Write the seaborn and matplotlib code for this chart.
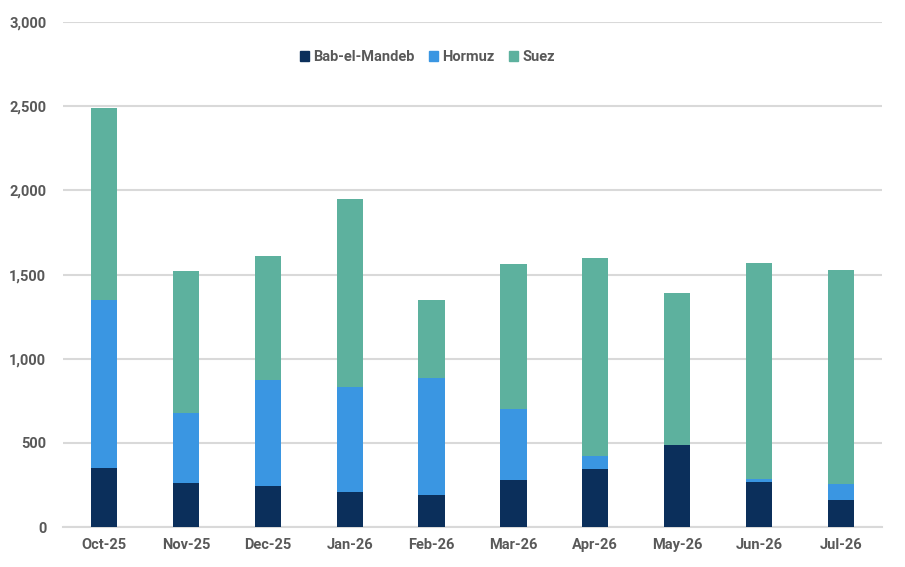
import pandas as pd
import matplotlib.pyplot as plt
import seaborn as sns
from matplotlib.patches import Patch
from matplotlib.ticker import FuncFormatter, FixedLocator

months = ["Oct-25", "Nov-25", "Dec-25", "Jan-26", "Feb-26",
          "Mar-26", "Apr-26", "May-26", "Jun-26", "Jul-26"]
bab_el_mandeb = [350, 260, 242, 206, 189, 278, 343, 486, 266, 159]
hormuz = [1000, 417, 631, 625, 696, 422, 78, 0, 18, 95]
suez = [1137, 845, 738, 1120, 464, 864, 1178, 905, 1286, 1274]

COL_BAB = "#0B2F5B"
COL_HOR = "#3A96E2"
COL_SUEZ = "#5DB19E"
TXT = "#595959"
GRID = "#D9D9D9"

df = pd.DataFrame({"month": months, "bab": bab_el_mandeb,
                   "hormuz": hormuz, "suez": suez})
df["lvl2"] = df["bab"] + df["hormuz"]
df["lvl3"] = df["lvl2"] + df["suez"]

sns.set_theme(style="white")
plt.rcParams["font.family"] = ["Roboto", "DejaVu Sans"]

fig = plt.figure(figsize=(9.05, 5.67), dpi=100)
ax = fig.add_axes([0.0696, 0.0705, 0.905, 0.8905])

# stacked look: draw cumulative totals from the top down
for col, c in [("lvl3", COL_SUEZ), ("lvl2", COL_HOR), ("bab", COL_BAB)]:
    sns.barplot(data=df, x="month", y=col, color=c, width=0.32,
                saturation=1, linewidth=0, ax=ax, zorder=3)

ax.set_xlim(-0.5, len(months) - 0.5)
ax.set_ylim(0, 3000)
ax.set_yticks(range(0, 3001, 500))
ax.yaxis.set_major_formatter(FuncFormatter(lambda v, p: f"{int(v):,}"))
ax.grid(axis="y", color=GRID, linewidth=1.5, zorder=0)
ax.set_axisbelow(True)
ax.set_xlabel("")
ax.set_ylabel("")

for s in ["top", "right", "left"]:
    ax.spines[s].set_visible(False)
ax.spines["bottom"].set_color(GRID)
ax.spines["bottom"].set_linewidth(1.5)

ax.tick_params(axis="x", which="major", length=0, pad=8)
ax.xaxis.set_minor_locator(FixedLocator([i - 0.5 for i in range(len(months) + 1)]))
ax.tick_params(axis="x", which="minor", length=5, width=1.5, color=GRID)
ax.tick_params(axis="y", length=0, pad=12)
for lab in ax.get_xticklabels() + ax.get_yticklabels():
    lab.set_color(TXT)
    lab.set_fontweight("bold")
    lab.set_fontsize(10.5)

handles = [Patch(color=COL_BAB, label="Bab-el-Mandeb"),
           Patch(color=COL_HOR, label="Hormuz"),
           Patch(color=COL_SUEZ, label="Suez")]
leg = ax.legend(handles=handles, loc="upper center", bbox_to_anchor=(0.445, 0.97),
                ncol=3, frameon=False, handlelength=0.6, handleheight=0.7,
                handletextpad=0.3, columnspacing=1.0,
                prop={"weight": "bold", "size": 10.5})
for t in leg.get_texts():
    t.set_color(TXT)

fig.savefig("out.png", dpi=100)
